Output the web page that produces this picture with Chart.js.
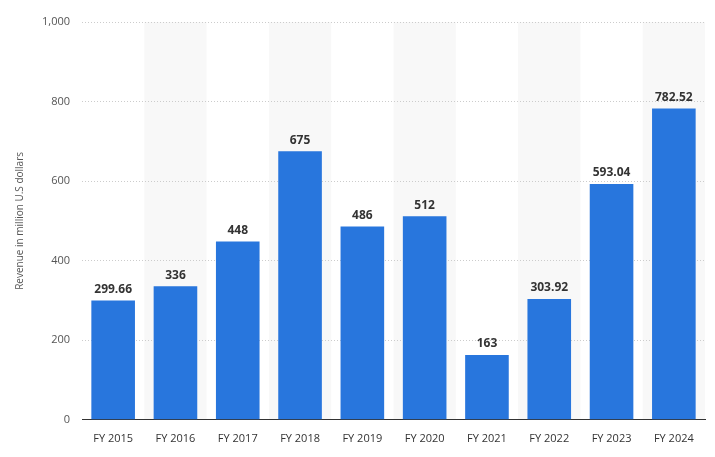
<!DOCTYPE html>
<html>
<head>
<meta charset="utf-8">
<script src="https://cdn.jsdelivr.net/npm/chart.js@4"></script>
<style>
  html, body { margin: 0; padding: 0; background: #fff; }
  #wrap { width: 715px; height: 457px; }
</style>
</head>
<body>
<div id="wrap"><canvas id="revenue_chart"></canvas></div>
<script>
const categories = ['FY 2015', 'FY 2016', 'FY 2017', 'FY 2018', 'FY 2019', 'FY 2020', 'FY 2021', 'FY 2022', 'FY 2023', 'FY 2024']
const revenue = [299.66, 336, 448, 675, 486, 512, 163, 303.92, 593.04, 782.52]
const yTicks = [0, 200, 400, 600, 800, 1000]

// light grey band behind every second category
const bands = {
    id: 'bands',
    beforeDraw(chart) {
        const { ctx, chartArea, scales: { x } } = chart
        const step = x.getPixelForValue(1) - x.getPixelForValue(0)
        ctx.save()
        ctx.fillStyle = '#f8f8f8'
        categories.forEach((c, i) => {
            if (i % 2 === 1) {
                const cx = x.getPixelForValue(i)
                ctx.fillRect(cx - step / 2, chartArea.top, step, chartArea.bottom - chartArea.top)
            }
        })
        ctx.restore()
    }
}

const valueLabels = {
    id: 'valueLabels',
    afterDatasetsDraw(chart) {
        const { ctx } = chart
        const meta = chart.getDatasetMeta(0)
        ctx.save()
        ctx.font = 'bold 12px "Open Sans", sans-serif'
        ctx.fillStyle = '#333'
        ctx.textAlign = 'center'
        ctx.textBaseline = 'bottom'
        meta.data.forEach((bar, i) => {
            ctx.fillText(String(revenue[i]), bar.x, bar.y - 5)
        })
        ctx.restore()
    }
}

new Chart(document.querySelector('#revenue_chart'), {
    type: 'bar',
    data: {
        labels: categories,
        datasets: [{
            data: revenue,
            backgroundColor: '#2876dd',
            categoryPercentage: 0.7,
            barPercentage: 1
        }]
    },
    options: {
        responsive: true,
        maintainAspectRatio: false,
        animation: false,
        layout: { padding: { top: 22, right: 10, left: 10, bottom: 8 } },
        plugins: { legend: { display: false }, tooltip: { enabled: false } },
        scales: {
            x: {
                grid: { display: false },
                border: { color: '#333' },
                ticks: { color: '#333', font: { family: 'Open Sans', size: 11 }, padding: 4 }
            },
            y: {
                min: 0,
                max: 1000,
                afterBuildTicks(axis) { axis.ticks = yTicks.map(v => ({ value: v })) },
                grid: { color: '#ccc', lineWidth: 1, drawTicks: false, tickBorderDash: [1, 2] },
                border: { display: false, dash: [1, 2] },
                ticks: {
                    color: '#555', padding: 12,
                    font: { family: 'Open Sans', size: 11 },
                    callback: v => v.toLocaleString('en-US')
                },
                title: {
                    display: true, text: 'Revenue in million U.S dollars',
                    color: '#555', font: { family: 'Open Sans', size: 10 }
                }
            }
        }
    },
    plugins: [bands, valueLabels]
})
</script>
</body>
</html>
